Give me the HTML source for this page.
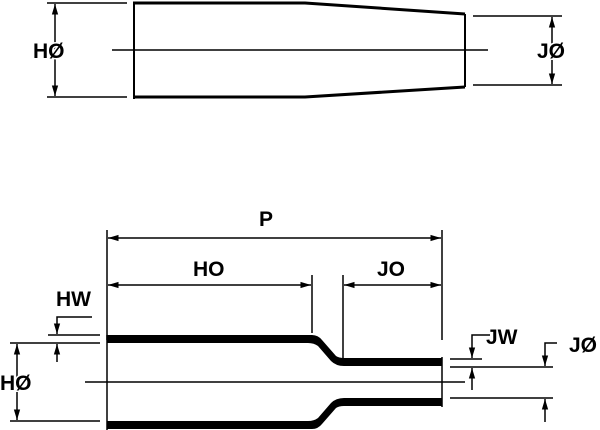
<!DOCTYPE html>
<html><head><style>body{margin:0;background:#fff}svg{display:block}text{font-family:"Liberation Sans",sans-serif;font-weight:bold;font-size:21px;fill:#000;stroke:#fff;stroke-width:3px;paint-order:stroke}</style></head>
<body>
<svg width="600" height="430" viewBox="0 0 600 430" xmlns="http://www.w3.org/2000/svg">
<defs>
<marker id="a" viewBox="0 0 10 10" refX="10" refY="5" markerWidth="7" markerHeight="7" orient="auto-start-reverse"><path d="M0,2 L10,5 L0,8 z" fill="#000"/></marker>
</defs>
<g stroke="#000" stroke-width="1.5" fill="none">
<line x1="47" y1="3" x2="127" y2="3"/><line x1="47" y1="97" x2="127" y2="97"/>
<line x1="55" y1="4" x2="55" y2="96" marker-start="url(#a)" marker-end="url(#a)"/>
<line x1="112" y1="50" x2="488" y2="50"/>
<line x1="473" y1="16" x2="562" y2="16"/><line x1="473" y1="85" x2="562" y2="85"/>
<line x1="552" y1="17" x2="552" y2="84" marker-start="url(#a)" marker-end="url(#a)"/>
<line x1="134" y1="2" x2="134" y2="99" stroke-width="2"/>
<line x1="465" y1="14" x2="465" y2="87" stroke-width="2"/>
<polyline points="133,3 305,3 465,14" stroke-width="3"/>
<polyline points="133,97 305,97 465,87" stroke-width="3"/>
<line x1="107" y1="230" x2="107" y2="340"/><line x1="442" y1="230" x2="442" y2="340"/>
<line x1="108" y1="238" x2="441" y2="238" marker-start="url(#a)" marker-end="url(#a)"/>
<line x1="312" y1="275" x2="312" y2="333"/><line x1="343" y1="275" x2="343" y2="362"/>
<line x1="108" y1="285" x2="311" y2="285" marker-start="url(#a)" marker-end="url(#a)"/>
<line x1="344" y1="285" x2="441" y2="285" marker-start="url(#a)" marker-end="url(#a)"/>
<polyline points="92,317 57,317 57,334" marker-end="url(#a)"/>
<line x1="48" y1="335" x2="100" y2="335"/>
<line x1="10" y1="343" x2="100" y2="343"/>
<line x1="57" y1="362" x2="57" y2="344" marker-end="url(#a)"/>
<line x1="10" y1="421" x2="100" y2="421"/>
<line x1="17" y1="344" x2="17" y2="420" marker-start="url(#a)" marker-end="url(#a)"/>
<line x1="85" y1="382" x2="465" y2="382"/>
<line x1="107" y1="335" x2="107" y2="430"/>
<polyline points="490,335 472,335 472,358" marker-end="url(#a)"/>
<line x1="450" y1="359" x2="482" y2="359"/>
<line x1="450" y1="367" x2="553" y2="367"/>
<line x1="472" y1="390" x2="472" y2="368" marker-end="url(#a)"/>
<polyline points="557,343 545,343 545,366" marker-end="url(#a)"/>
<line x1="450" y1="398" x2="553" y2="398"/>
<line x1="545" y1="422" x2="545" y2="399" marker-end="url(#a)"/>
<line x1="442" y1="357" x2="442" y2="407"/>
</g>
<path d="M107,335 L312,335 Q318,335 322,340 L336,356 Q339,358 344,358 L442,358 L442,366 L344,366 Q336,366 331,361 L318,346 Q314,343 308,343 L107,343 Z" fill="#000"/>
<path d="M107,429 L312,429 Q318,429 322,424 L336,408 Q339,406 344,406 L442,406 L442,398 L344,398 Q336,398 331,403 L318,418 Q314,421 308,421 L107,421 Z" fill="#000"/>
<text x="33" y="58">HØ</text>
<text x="537" y="58">JØ</text>
<text x="259" y="226">P</text>
<text x="193" y="276">HO</text>
<text x="377" y="276">JO</text>
<text x="56" y="306">HW</text>
<text x="0" y="390">HØ</text>
<text x="486" y="344">JW</text>
<text x="569" y="352">JØ</text>
</svg>
</body></html>
